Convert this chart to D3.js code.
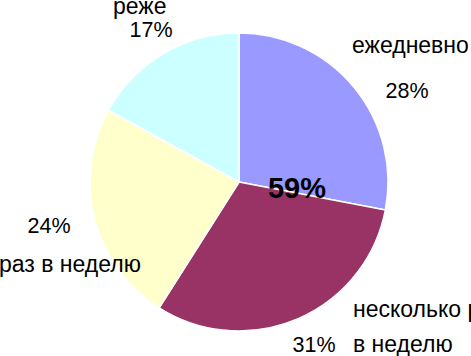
<!DOCTYPE html>
<html>
<head>
<meta charset="utf-8">
<script src="https://cdn.jsdelivr.net/npm/d3@7"></script>
<style>
  body { margin: 0; background: #fff; }
  text { font-family: "Liberation Sans", Arial, sans-serif; fill: #000; }
</style>
</head>
<body>
<div id="ChartContainer"></div>
<script>
// chart data
var categories = ["ежедневно", "несколько раз в неделю", "раз в неделю", "реже"]
var values = [28, 31, 24, 17]
var colors = ["#9999FF", "#993366", "#FFFFCC", "#CCFFFF"]
var pctLabels = ["28%", "31%", "24%", "17%"]
var nameLines = [["ежедневно"], ["несколько раз", "в неделю"], ["раз в неделю"], ["реже"]]
var totalLabel = "59%"

// label placement (x, y of name lines and percentage)
var namePos = [[352, 53], [353, 317], [-1, 272], [113, 14]]
var pctPos = [[407, 98], [314, 352], [49, 233], [151, 37]]

var fullWidth = 471
var fullHeight = 356
var cx = 239, cy = 182, radius = 149

var svg = d3.select("#ChartContainer").append("svg")
  .attr("width", fullWidth)
  .attr("height", fullHeight)

svg.append("rect")
  .attr("width", fullWidth)
  .attr("height", fullHeight)
  .attr("fill", "#fff")

var pie = d3.pie().sort(null).value(d => d)
var arc = d3.arc().innerRadius(0).outerRadius(radius)

var g = svg.append("g")
  .attr("transform", `translate(${cx},${cy})`)

g.selectAll(".slice")
  .data(pie(values))
  .enter().append("path")
  .attr("class", "slice")
  .attr("d", arc)
  .attr("fill", (d, i) => colors[i])
  .attr("stroke", "#fff")
  .attr("stroke-width", 1.5)
  .attr("stroke-linejoin", "round")

// category names
nameLines.forEach((lines, i) => {
  var t = svg.append("text")
    .attr("x", namePos[i][0])
    .attr("y", namePos[i][1])
    .style("font-size", "23px")
  lines.forEach((line, j) => {
    t.append("tspan")
      .attr("x", namePos[i][0])
      .attr("dy", j === 0 ? 0 : 35)
      .text(line)
  })
})

// percentages
svg.selectAll(".Pct")
  .data(pctLabels)
  .enter().append("text")
  .attr("class", "Pct")
  .attr("x", (d, i) => pctPos[i][0])
  .attr("y", (d, i) => pctPos[i][1])
  .attr("text-anchor", "middle")
  .style("font-size", "21.5px")
  .text(d => d)

// combined share
svg.append("text")
  .attr("x", 297)
  .attr("y", 198)
  .attr("text-anchor", "middle")
  .style("font-size", "29px")
  .style("font-weight", "bold")
  .text(totalLabel)
</script>
</body>
</html>
